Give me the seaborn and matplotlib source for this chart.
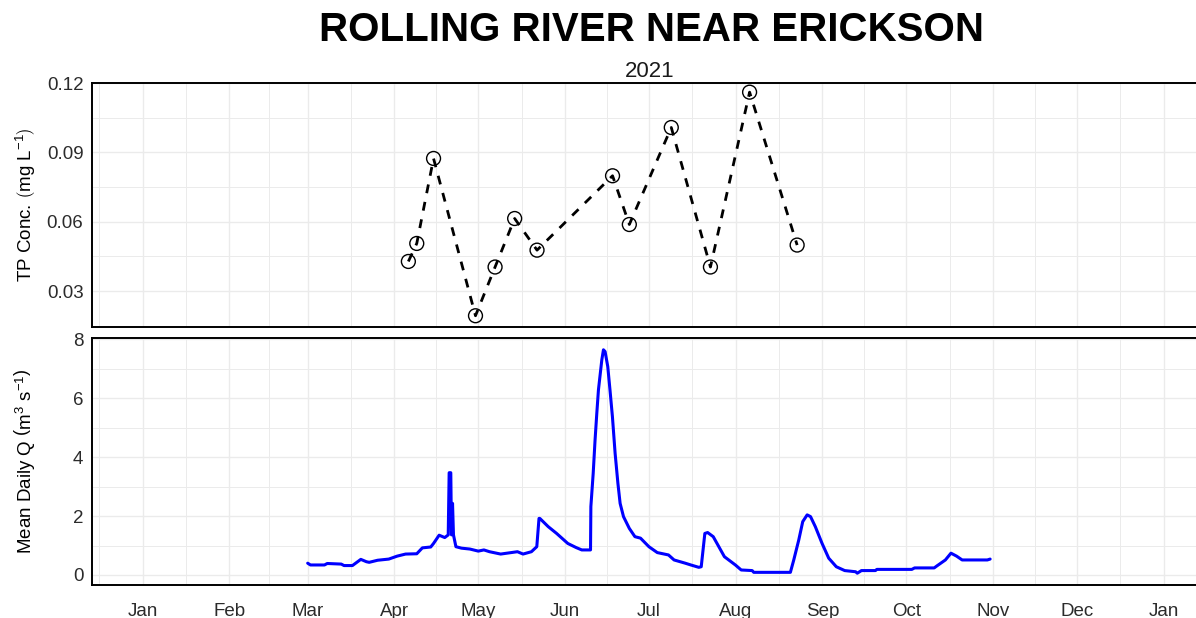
"""Rolling River near Erickson - TP concentration and mean daily flow, 2021."""
import matplotlib
matplotlib.use('Agg')
import matplotlib.pyplot as plt
import matplotlib.dates as mdates
import matplotlib.ticker as mticker
import seaborn as sns
import pandas as pd

# --- data ---
tp_dates = ['2021-04-06', '2021-04-09', '2021-04-15', '2021-04-30', '2021-05-07',
            '2021-05-14', '2021-05-22', '2021-06-18', '2021-06-24', '2021-07-09',
            '2021-07-23', '2021-08-06', '2021-08-23']
tp_conc = [0.0428, 0.0506, 0.0874, 0.0193, 0.0404, 0.0614, 0.0477, 0.0799,
           0.0588, 0.1008, 0.0404, 0.1161, 0.0499]

flow_dates = ['2021-03-01', '2021-03-02', '2021-03-07', '2021-03-08', '2021-03-13',
              '2021-03-14', '2021-03-17', '2021-03-20', '2021-03-22', '2021-03-23',
              '2021-03-26', '2021-03-30', '2021-04-02', '2021-04-05', '2021-04-09',
              '2021-04-11', '2021-04-14', '2021-04-15', '2021-04-17', '2021-04-19',
              '2021-04-20 06:00', '2021-04-20 14:00', '2021-04-21 04:00', '2021-04-21 10:00',
              '2021-04-21 19:00', '2021-04-22 03:00', '2021-04-23', '2021-04-25',
              '2021-04-28', '2021-05-01', '2021-05-03', '2021-05-05', '2021-05-09',
              '2021-05-15', '2021-05-17', '2021-05-20', '2021-05-21 22:00', '2021-05-22 17:00',
              '2021-05-23', '2021-05-26', '2021-05-29', '2021-06-02', '2021-06-05',
              '2021-06-07', '2021-06-10 03:00', '2021-06-10 06:00', '2021-06-11 02:00',
              '2021-06-11 18:00', '2021-06-12 09:00', '2021-06-12 23:00', '2021-06-14 04:00',
              '2021-06-14 18:00', '2021-06-15 08:00', '2021-06-16 07:00', '2021-06-17 02:00',
              '2021-06-17 23:00', '2021-06-18 22:00', '2021-06-19 22:00', '2021-06-20 17:00',
              '2021-06-21 22:00', '2021-06-24', '2021-06-26', '2021-06-28', '2021-07-01',
              '2021-07-04', '2021-07-08', '2021-07-10', '2021-07-14', '2021-07-16',
              '2021-07-18 20:00', '2021-07-19 17:00', '2021-07-21', '2021-07-22', '2021-07-24',
              '2021-07-26', '2021-07-28', '2021-07-31 22:00', '2021-08-03', '2021-08-06 22:00',
              '2021-08-07 12:00', '2021-08-20 14:00', '2021-08-21 19:00', '2021-08-23 14:00',
              '2021-08-25', '2021-08-26 14:00', '2021-08-27 19:00', '2021-08-29 12:00',
              '2021-08-31 22:00', '2021-09-03 07:00', '2021-09-06', '2021-09-09',
              '2021-09-12 22:00', '2021-09-13 12:00', '2021-09-15', '2021-09-20',
              '2021-09-20 12:00', '2021-10-03', '2021-10-04', '2021-10-11', '2021-10-12',
              '2021-10-15', '2021-10-17', '2021-10-19', '2021-10-21', '2021-10-30',
              '2021-10-31']
flow_q = [0.40, 0.34, 0.34, 0.39, 0.37,
          0.32, 0.32, 0.53, 0.45, 0.43,
          0.50, 0.54, 0.64, 0.71, 0.72,
          0.92, 0.95, 1.07, 1.35, 1.27,
          1.36, 3.47, 3.47, 1.36,
          2.43, 1.36, 0.96, 0.91,
          0.88, 0.81, 0.85, 0.79, 0.71,
          0.79, 0.71, 0.79, 0.96, 1.92,
          1.92, 1.64, 1.41, 1.07, 0.93,
          0.85, 0.85, 2.32, 3.45,
          4.58, 5.49, 6.28, 7.30,
          7.64, 7.58, 7.07, 6.28,
          5.37, 4.13, 3.11, 2.43,
          1.98, 1.58, 1.30, 1.25, 0.96,
          0.76, 0.68, 0.51, 0.40, 0.34,
          0.26, 0.28, 1.41, 1.44, 1.30,
          0.96, 0.62, 0.34, 0.17, 0.15,
          0.09, 0.09, 0.51, 1.19,
          1.81, 2.04, 1.98, 1.64,
          1.07, 0.57, 0.28, 0.15,
          0.11, 0.06, 0.15, 0.15,
          0.19, 0.19, 0.24, 0.24, 0.31,
          0.51, 0.74, 0.64, 0.51, 0.51,
          0.54]

title = 'ROLLING RIVER NEAR ERICKSON'
subtitle = '2021'

tp = pd.DataFrame({'date': pd.to_datetime(tp_dates, format='ISO8601'), 'conc': tp_conc})
flow = pd.DataFrame({'date': pd.to_datetime(flow_dates, format='ISO8601'), 'q': flow_q})

sns.set_style('white')
plt.rcParams['font.family'] = ['Liberation Sans', 'DejaVu Sans']
plt.rcParams.update({'mathtext.fontset': 'custom', 'mathtext.rm': 'Liberation Sans',
                     'mathtext.it': 'Liberation Sans:italic', 'mathtext.bf': 'Liberation Sans:bold',
                     'text.color': 'black'})

fig = plt.figure(figsize=(11.96, 6.18), dpi=100)
ax1 = fig.add_axes([0.0767, 0.4704, 0.9364, 0.3958])
ax2 = fig.add_axes([0.0767, 0.0529, 0.9364, 0.3997])

sns.lineplot(data=tp, x='date', y='conc', ax=ax1, color='black', linewidth=2.0,
             linestyle=(0, (3.2, 3.2)), estimator=None, sort=False)
sns.scatterplot(data=tp, x='date', y='conc', ax=ax1, marker='o', s=100,
                facecolor='none', edgecolor='black', linewidth=1.0, zorder=3)
sns.lineplot(data=flow, x='date', y='q', ax=ax2, color='#0000FF', linewidth=2.2,
             estimator=None, sort=False)

xlim = (pd.Timestamp('2020-12-13 19:00'), pd.Timestamp('2022-01-18 05:00'))
month_starts = pd.date_range('2020-12-01', '2022-02-01', freq='MS')
minor_x = [a + (b - a) / 2 for a, b in zip(month_starts[:-1], month_starts[1:])]

for ax in (ax1, ax2):
    ax.set_xlim(*xlim)
    ax.xaxis.set_major_locator(mdates.MonthLocator())
    ax.xaxis.set_major_formatter(mdates.DateFormatter('%b'))
    ax.xaxis.set_minor_locator(mticker.FixedLocator(mdates.date2num(minor_x)))
    ax.grid(True, which='major', color='#EBEBEB', linewidth=1.0)
    ax.grid(True, which='minor', color='#EBEBEB', linewidth=0.7)
    ax.set_axisbelow(True)
    for s in ax.spines.values():
        s.set_color('black'); s.set_linewidth(1.4)
    ax.tick_params(axis='both', which='major', length=3.5, width=1.0, color='#333333',
                   labelsize=13.5, labelcolor='#2B2B2B', pad=2.5)
    ax.tick_params(axis='both', which='minor', length=0)
    ax.set_xlabel(''); ax.set_ylabel('')

ax1.set_ylim(0.0143, 0.1202)
ax1.yaxis.set_major_locator(mticker.FixedLocator([0.03, 0.06, 0.09, 0.12]))
ax1.yaxis.set_major_formatter(mticker.FormatStrFormatter('%.2f'))
ax1.yaxis.set_minor_locator(mticker.FixedLocator([0.015, 0.045, 0.075, 0.105]))
ax1.tick_params(axis='x', which='major', length=0, labelbottom=False)

ax2.set_ylim(-0.35, 8.03)
ax2.yaxis.set_major_locator(mticker.FixedLocator([0, 2, 4, 6, 8]))
ax2.yaxis.set_minor_locator(mticker.FixedLocator([1, 3, 5, 7]))
ax2.tick_params(axis='x', which='major', pad=9)

fig.text(0.0215, 0.668, r'TP Conc. $\left(\mathrm{mg\ L^{-1}}\right)$', rotation=90,
         ha='center', va='center', fontsize=13.5, color='black')
fig.text(0.0205, 0.253, r'Mean Daily Q $\left(\mathrm{m^{3}\ s^{-1}}\right)$', rotation=90,
         ha='center', va='center', fontsize=13.5, color='black')
fig.text(0.5445, 0.951, title, ha='center', va='center', fontsize=29, fontweight='bold',
         color='black')
fig.text(0.5435, 0.885, subtitle, ha='center', va='center', fontsize=16, color='#1A1A1A')

fig.savefig('out.png', dpi=100)
plt.close(fig)
